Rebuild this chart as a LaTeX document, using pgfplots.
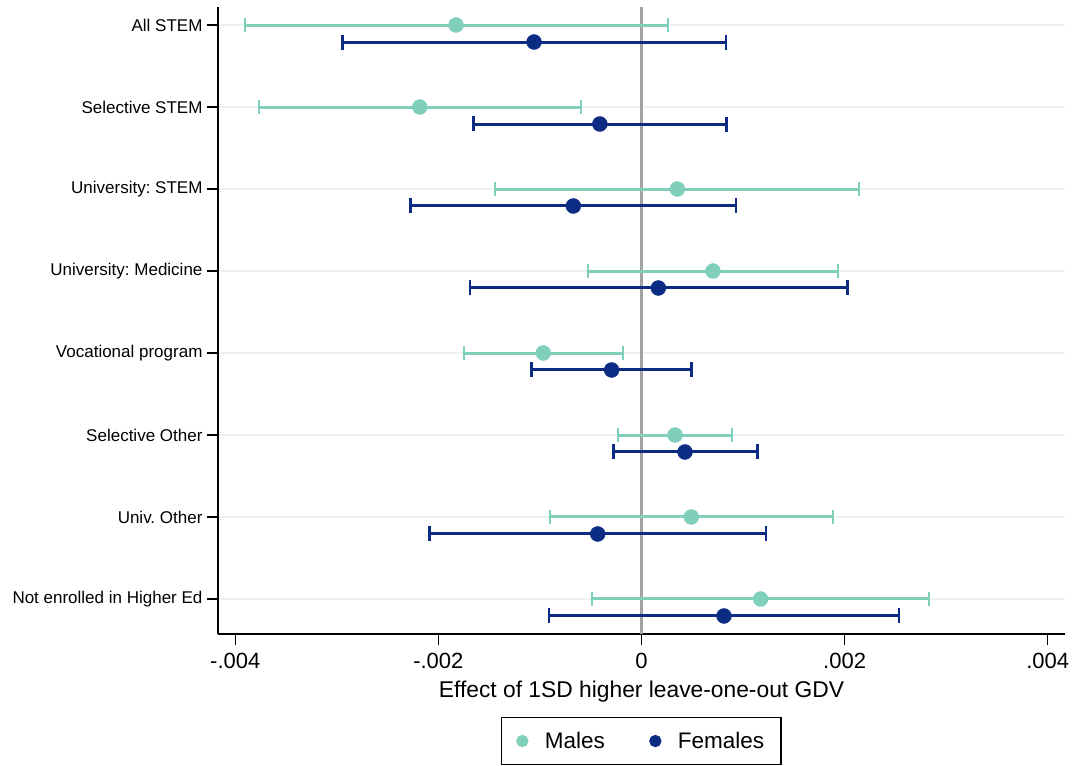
\documentclass[border=0pt]{standalone}
\usepackage{fontspec}
\setmainfont{Liberation Sans}
\frenchspacing
\usepackage{pgfplots}
\usepackage{pgfplotstable}
\pgfplotsset{compat=1.18}
\definecolor{male}{HTML}{80CFBB}
\definecolor{female}{HTML}{0C2C84}
\definecolor{gridc}{HTML}{EAF2F3}
\definecolor{zeroc}{HTML}{A3A3A3}

% y: row position (8 = top); x: estimate; lo/hi: CI bounds
\pgfplotstableread{
y x lo hi
8 -0.001826 -0.003909 0.000261
7 -0.002183 -0.003762 -0.000595
6 0.000353 -0.001442 0.002144
5 0.000704 -0.000524 0.001934
4 -0.000967 -0.001744 -0.000182
3 0.000330 -0.000231 0.000894
2 0.000490 -0.000904 0.001885
1 0.001173 -0.000484 0.002833
}\males

\pgfplotstableread{
y x lo hi
7.793 -0.001058 -0.002945 0.000832
6.793 -0.000410 -0.001655 0.000835
5.793 -0.000671 -0.002272 0.000930
4.793 0.000166 -0.001688 0.002026
3.793 -0.000294 -0.001081 0.000494
2.793 0.000428 -0.000274 0.001140
1.793 -0.000431 -0.002089 0.001225
0.793 0.000812 -0.000910 0.002534
}\females

\begin{document}
\begin{tikzpicture}[x=1pt,y=1pt]
\path[use as bounding box] (-218,-132) rectangle (854,634);
\begin{axis}[
  at={(0,0)}, anchor=south west,
  scale only axis, width=847pt, height=627pt,
  xmin=-0.00417, xmax=0.00417, ymin=0.573, ymax=8.22,
  axis x line*=bottom, axis y line*=left,
  axis line style={line width=1.3pt, black},
  xtick={-0.004,-0.002,0,0.002,0.004},
  xticklabels={-.004,-.002,0,.002,.004},
  scaled x ticks=false,
  ytick={1,2,3,4,5,6,7,8},
  yticklabels={Not enrolled in Higher Ed, Univ. Other, Selective Other, Vocational program, University: Medicine, University: STEM, Selective STEM, All STEM},
  tick style={black, line width=1.3pt},
  tick align=outside, major tick length=11pt,
  ymajorgrids, grid style={gridc, line width=2pt},
  xticklabel style={font=\fontsize{22}{24}\selectfont, yshift=-5pt},
  yticklabel style={font=\fontsize{17}{19}\selectfont, xshift=-1pt},
  xlabel={Effect of 1SD higher leave-one-out GDV},
  xlabel style={font=\fontsize{22.8}{24}\selectfont, yshift=-5pt},
  legend columns=2,
  legend style={at={(0.5,0)}, anchor=north, yshift=-83pt,
    draw=black, line width=1.3pt,
    font=\fontsize{22.5}{24}\selectfont,
    /tikz/every odd column/.append style={column sep=15pt},
    /tikz/every even column/.append style={column sep=43pt},
    inner xsep=15pt, inner ysep=12.5pt},
]
\addplot[forget plot, zeroc, line width=2.3pt] coordinates {(0,0.573) (0,8.22)};

\addplot[forget plot, only marks, mark=*, mark size=7.5pt, male, mark options={fill=male, draw=male},
  error bars/.cd, x dir=both, x explicit, error mark=|,
  error bar style={line width=3pt, male},
  error mark options={line width=2pt, mark size=7pt, male}]
  table[x=x, y=y, x error plus expr=\thisrow{hi}-\thisrow{x}, x error minus expr=\thisrow{x}-\thisrow{lo}] {\males};

\addplot[forget plot, only marks, mark=*, mark size=7.5pt, female, mark options={fill=female, draw=female},
  error bars/.cd, x dir=both, x explicit, error mark=|,
  error bar style={line width=3pt, female},
  error mark options={line width=2.6pt, mark size=7.5pt, female}]
  table[x=x, y=y, x error plus expr=\thisrow{hi}-\thisrow{x}, x error minus expr=\thisrow{x}-\thisrow{lo}] {\females};

\addlegendimage{only marks, mark=*, mark size=5.5pt, male, mark options={fill=male, draw=male}}
\addlegendentry{Males}
\addlegendimage{only marks, mark=*, mark size=5.5pt, female, mark options={fill=female, draw=female}}
\addlegendentry{Females}
\end{axis}
\end{tikzpicture}
\end{document}
